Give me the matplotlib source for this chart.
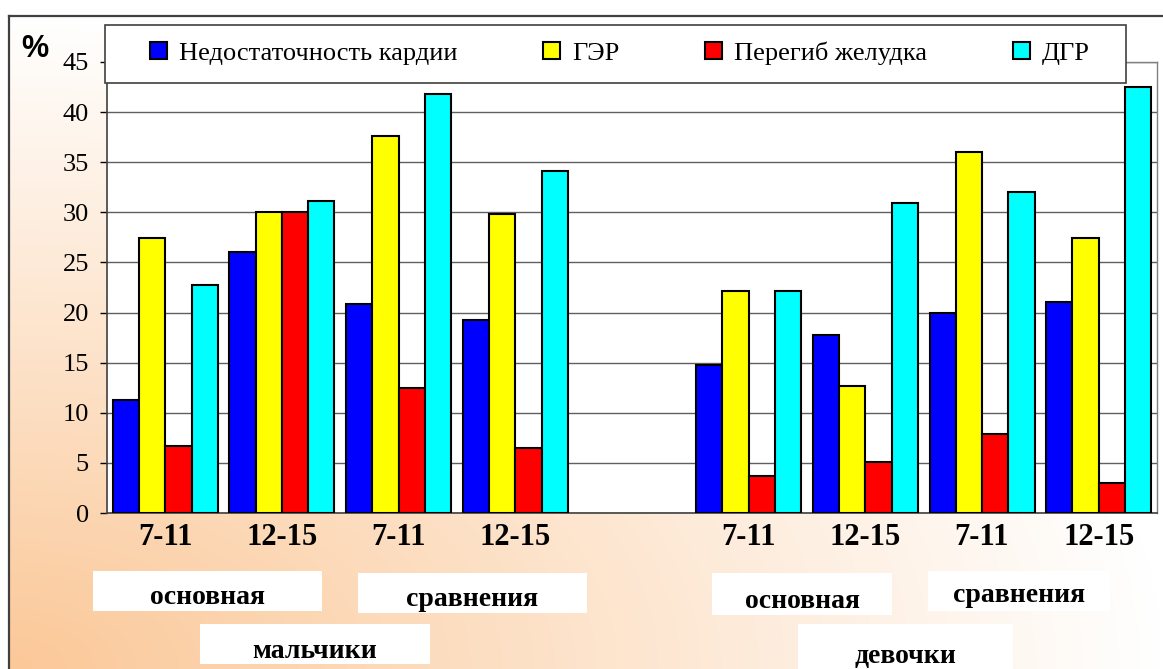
import numpy as np
import matplotlib
matplotlib.use("Agg")
import matplotlib.pyplot as plt
from matplotlib.patches import Rectangle

# ---- data ----
categories = ["7-11", "12-15", "7-11", "12-15", "", "7-11", "12-15", "7-11", "12-15"]
series_names = ["Недостаточность кардии", "ГЭР", "Перегиб желудка", "ДГР"]
heart = [11.3, 26.0, 20.9, 19.3, np.nan, 14.8, 17.8, 20.0, 21.1]
ger = [27.4, 30.0, 37.6, 29.8, np.nan, 22.2, 12.7, 36.0, 27.4]
kink = [6.7, 30.0, 12.5, 6.5, np.nan, 3.7, 5.1, 7.9, 3.0]
dgr = [22.7, 31.1, 41.8, 34.1, np.nan, 22.2, 30.9, 32.0, 42.5]
colors = ["#0000FF", "#FFFF00", "#FF0000", "#00FFFF"]
yticks = [0, 5, 10, 15, 20, 25, 30, 35, 40, 45]
group_labels = ["основная", "сравнения", "мальчики", "основная", "сравнения", "девочки"]

W, H = 1163, 669
fig = plt.figure(figsize=(W / 100, H / 100), dpi=100)
fig.patch.set_facecolor("white")

def fx(px):
    return px / W

def fy(py):
    return 1 - py / H

# background gradient inside the border
bg = fig.add_axes([0, 0, 1, 1], zorder=0)
bg.set_xlim(0, W)
bg.set_ylim(H, 0)
bg.axis("off")
xx, yy = np.meshgrid(np.linspace(0, 1, 300), np.linspace(0, 1, 200))
d = np.sqrt(xx ** 2 + (1 - yy) ** 2)
t = np.clip(1 - d, 0, 1)
orange = np.array([251, 200, 152]) / 255.0
white = np.array([1.0, 1.0, 1.0])
img = white[None, None, :] * (1 - t[..., None]) + orange[None, None, :] * t[..., None]
bg.imshow(img, extent=[9, W, H, 16], aspect="auto", interpolation="bilinear")
bg.plot([9, W], [16, 16], color="#404040", lw=1.6)
bg.plot([9, 9], [16, H], color="#404040", lw=1.6)

# label boxes
boxes = [
    (93, 571, 229, 40),
    (358, 573, 229, 40),
    (200, 624, 230, 40),
    (712, 573, 180, 42),
    (928, 571, 182, 40),
    (798, 624, 215, 45),
]
text_dy = [6, 6, 8, 8, 4, 10]
for (x0, y0, w, h), lab, dy in zip(boxes, group_labels, text_dy):
    bg.add_patch(Rectangle((x0, y0), w, h, facecolor="white", edgecolor="none"))
    bg.text(x0 + w / 2, y0 + h / 2 + dy, lab, ha="center", va="center",
            fontsize=20, fontweight="bold", family="Liberation Serif")

bg.text(35, 49, "%", ha="center", va="center", fontsize=22, fontweight="bold",
        family="Liberation Sans")

# main axes
ax = fig.add_axes([fx(107), fy(513), (1157 - 107) / W, (513 - 62) / H], zorder=1)
ax.set_facecolor("white")
x = np.arange(len(categories))
bw = 0.225
data = [heart, ger, kink, dgr]
handles = []
for i, (vals, c, name) in enumerate(zip(data, colors, series_names)):
    b = ax.bar(x + (i - 1.5) * bw, vals, width=bw, color=c, edgecolor="black",
               linewidth=1.5, label=name, zorder=3)
    handles.append(b)

ax.set_xlim(-0.5, len(categories) - 0.5)
ax.set_ylim(0, 45)
ax.set_yticks(yticks)
ax.set_yticklabels([str(v) for v in yticks], family="Liberation Serif", fontsize=19)
ax.set_xticks(x)
ax.set_xticklabels(categories, family="Liberation Serif", fontsize=22, fontweight="bold")
ax.tick_params(axis="x", length=0, pad=7)
ax.tick_params(axis="y", length=5, width=1, pad=8, direction="out")
ax.yaxis.grid(True, color="#606060", lw=1)
ax.set_axisbelow(True)
for s in ["top", "right"]:
    ax.spines[s].set_color("#808080")
    ax.spines[s].set_linewidth(1)
for s in ["left", "bottom"]:
    ax.spines[s].set_color("#404040")
    ax.spines[s].set_linewidth(1.2)

# legend frame
frame = Rectangle((fx(105), fy(83)), (1126 - 105) / W, (83 - 25) / H,
                  transform=fig.transFigure, facecolor="white", edgecolor="#404040",
                  linewidth=1.2, zorder=4)
fig.add_artist(frame)

leg = fig.legend(handles=handles, labels=series_names, ncol=4, mode="expand",
                 loc="center left",
                 bbox_to_anchor=(fx(150), fy(82), (1090 - 150) / W, (82 - 24) / H),
                 prop={"family": "Liberation Serif", "size": 19},
                 frameon=False,
                 handlelength=0.65, handleheight=0.65, handletextpad=0.45,
                 borderaxespad=0, borderpad=0)
leg.set_zorder(5)

fig.savefig("out.png", dpi=100)
